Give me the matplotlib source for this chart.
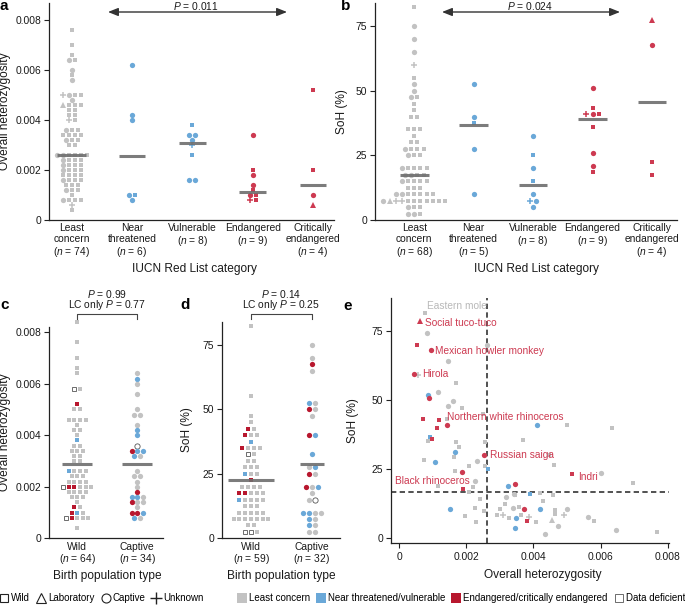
import numpy as np
import matplotlib
matplotlib.use('Agg')
import matplotlib.pyplot as plt
from matplotlib.lines import Line2D
from matplotlib.patches import FancyArrowPatch

plt.rcParams['font.family'] = ['Liberation Sans', 'DejaVu Sans']
plt.rcParams['mathtext.fontset'] = 'custom'
plt.rcParams['mathtext.it'] = 'Liberation Sans:italic'
plt.rcParams['mathtext.rm'] = 'Liberation Sans'

# ======================= DATA =======================
iucn_labels = ['Least\nconcern', 'Near\nthreatened', 'Vulnerable', 'Endangered', 'Critically\nendangered']
birth_labels = ['Wild', 'Captive']
a_counts = [74, 6, 8, 9, 4]
b_counts = [68, 5, 8, 9, 4]
c_counts = [64, 34]
d_counts = [59, 32]
iucn_color_keys = ['g', 'b', 'b', 'r', 'r']
# shapes: s = wild, t = laboratory, c = captive, p = unknown
# colours: g = least concern, b = NT/VU, r = EN/CR, o = data deficient

# ---- panel a: overall heterozygosity by IUCN category ----
a_lc_val = [0.0076, 0.0070, 0.0066, 0.0064, 0.0064, 0.0060, 0.0058, 0.0056,
            0.0050, 0.0050, 0.0050, 0.0050, 0.0048, 0.0046, 0.0046, 0.0046, 0.0046,
            0.0044, 0.0044, 0.0042, 0.0042, 0.0040, 0.0040,
            0.0036, 0.0036, 0.0036, 0.0034, 0.0034, 0.0034, 0.0034,
            0.0032, 0.0032, 0.0032, 0.0030, 0.0030,
            0.0026, 0.0026, 0.0026, 0.0026, 0.0026, 0.0026,
            0.0024, 0.0024, 0.0024, 0.0024, 0.0022, 0.0022, 0.0022, 0.0022,
            0.0020, 0.0020, 0.0020, 0.0020, 0.0018, 0.0018, 0.0018, 0.0018,
            0.0016, 0.0016, 0.0016, 0.0016, 0.0014, 0.0014, 0.0014,
            0.0012, 0.0012, 0.0012, 0.0010, 0.0008, 0.0008, 0.0008, 0.0008,
            0.0006, 0.0004]
a_lc_shp = ("sss" + "cs" + "c" + "s" + "c" + "pcss" + "c" + "tsss"
            + "ss" + "ss" + "ps" + "css" + "ssss" + "css" + "ss" + "ccssss" + "csss"
            + "csss" + "csss" + "ssss" + "csss" + "sss" + "css" + "s" + "csss" + "p" + "s")
a_nt_val = [0.0062, 0.0042, 0.0040, 0.0010, 0.0010, 0.0008]
a_nt_shp = "ccccsc"
a_vu_val = [0.0038, 0.0034, 0.0034, 0.0032, 0.0030, 0.0026, 0.0016, 0.0016]
a_vu_shp = "scccpscc"
a_en_val = [0.0034, 0.0020, 0.0018, 0.0014, 0.0012, 0.0010, 0.0010, 0.0008, 0.0008]
a_en_shp = "csccscsps"
a_cr_val = [0.0052, 0.0020, 0.0010, 0.0006]
a_cr_shp = "ssct"
a_medians = [0.0026, 0.00256, 0.0031, 0.00112, 0.00141]

# ---- panel b: SoH by IUCN category ----
b_lc_val = [82.5, 75, 70, 65, 60, 55, 52.5, 50, 47.5, 47.5, 45, 42.5, 40, 40,
            35, 35, 35, 32.5, 30, 30, 27.5, 27.5, 27.5, 27.5, 25, 25, 25,
            20, 20, 20, 20, 20, 17.5, 17.5, 17.5, 17.5, 15, 15, 15, 15, 15,
            12.5, 12.5, 12.5, 10, 10, 10, 10, 10, 10, 10,
            7.5, 7.5, 7.5, 7.5, 7.5, 7.5, 7.5, 7.5, 7.5, 7.5, 7.5,
            5, 5, 5, 2.5, 2.5, 2.5]
b_lc_shp = ("scccpscccsssss" + "sss" + "s" + "ss" + "csss" + "css"
            + "cssss" + "ccss" + "cssss" + "sss" + "ccsssss" + "ctppsssssss" + "css" + "ccs")
b_nt_val = [52.5, 40, 37.5, 27.5, 10]
b_nt_shp = "ccscc"
b_vu_val = [32.5, 25, 20, 15, 10, 7.5, 7.5, 5]
b_vu_shp = "cscscpcc"
b_en_val = [51, 43.5, 41, 41, 41, 36, 26, 21, 18.5]
b_en_shp = "cspcssccs"
b_cr_val = [77.5, 67.5, 22.5, 17.5]
b_cr_shp = "tcss"
b_medians = [17.5, 36.9, 13.5, 39, 45.7]

# ---- panel c: overall heterozygosity by birth population ----
c_wild_val = [0.0084, 0.0076, 0.0070, 0.0066, 0.0064, 0.0058, 0.0058, 0.0052, 0.0050, 0.0050,
              0.0046, 0.0046, 0.0046, 0.0046, 0.0044, 0.0042, 0.0042, 0.0040, 0.0038,
              0.0036, 0.0036, 0.0034, 0.0034, 0.0034, 0.0032, 0.0032, 0.0030, 0.0030,
              0.0026, 0.0026, 0.0026, 0.0026, 0.0024, 0.0024, 0.0024,
              0.0022, 0.0022, 0.0022, 0.0022, 0.0020, 0.0020, 0.0020, 0.0020, 0.0020, 0.0020,
              0.0018, 0.0018, 0.0018, 0.0018, 0.0016, 0.0016, 0.0016, 0.0014,
              0.0012, 0.0012, 0.0010, 0.0010, 0.0010,
              0.0008, 0.0008, 0.0008, 0.0008, 0.0008, 0.0004]
c_wild_col = ("ggggg" + "og" + "r" + "gg" + "gggg" + "g" + "gg" + "g" + "b" + "gg" + "ggg" + "gg" + "gg"
              + "bggg" + "ggg" + "gggg" + "orrggg" + "gggg" + "ggg" + "g" + "rg" + "rbg" + "orggg" + "g")
c_capt_val = [0.0064, 0.0062, 0.0060, 0.0056, 0.0050, 0.0048, 0.0048, 0.0044, 0.0042, 0.0040,
              0.0036, 0.0034, 0.0034, 0.0034, 0.0032, 0.0032, 0.0026, 0.0024, 0.0024,
              0.0022, 0.0020, 0.0018, 0.0016, 0.0016, 0.0016, 0.0014, 0.0014, 0.0014,
              0.0012, 0.0010, 0.0010, 0.0010, 0.0008, 0.0008]
c_capt_col = ("gbggg" + "gg" + "g" + "b" + "b" + "o" + "rbb" + "bg" + "g" + "gg" + "g" + "g" + "r"
              + "bbg" + "rgg" + "g" + "rrb" + "bg")
c_medians = [0.0029, 0.0029]

# ---- panel d: SoH by birth population ----
d_wild_val = [82.5, 55, 47.5, 45, 42.5, 42.5, 40, 40, 40, 37.5, 35, 35, 35, 35,
              32.5, 32.5, 30, 30, 27.5, 27.5, 27.5, 25, 25, 25, 22.5,
              20, 20, 20, 20, 17.5, 17.5, 17.5, 17.5, 17.5, 15, 15, 15, 15, 15,
              12.5, 12.5, 12.5, 10, 10, 10, 10, 10,
              7.5, 7.5, 7.5, 7.5, 7.5, 7.5, 7.5, 5, 5, 2.5, 2.5, 2.5]
d_wild_col = ("gggg" + "rg" + "rgg" + "b" + "rggg" + "og" + "gg" + "ggg" + "bgg" + "r"
              + "gggg" + "rrggg" + "bgggg" + "ggg" + "ggggg" + "ggggggg" + "gg" + "oog")
d_capt_val = [75, 70, 67.5, 65, 52.5, 52.5, 50, 50, 47.5, 40, 40, 32.5, 27.5, 27.5, 25, 25,
              20, 20, 20, 17.5, 15, 15, 10, 10, 10, 10, 7.5, 7.5, 5, 5, 2.5, 2.5]
d_capt_col = ("ggrg" + "bg" + "rg" + "g" + "rb" + "b" + "gb" + "rg" + "rgb" + "g" + "go"
              + "bbgg" + "bg" + "bg" + "gg")
d_medians = [22.5, 29]

# ---- panel e: SoH vs overall heterozygosity ----
e_gray_x = [0.00077, 0.00083, 0.00262, 0.00145, 0.00056, 0.00170, 0.00115, 0.00160, 0.00147, 0.00187,
            0.00249, 0.00143, 0.00501, 0.00632, 0.00085, 0.00170, 0.00179, 0.00368, 0.00256, 0.00164,
            0.00447, 0.00075, 0.00232, 0.00207, 0.00462, 0.00256, 0.00166, 0.00600, 0.00696, 0.00226,
            0.00115, 0.00219, 0.00209, 0.00341, 0.00241, 0.00318, 0.00346, 0.00420, 0.00457, 0.00427,
            0.00315, 0.00301, 0.00358, 0.00339, 0.00464, 0.00499, 0.00196, 0.00225, 0.00252, 0.00230,
            0.00292, 0.00310, 0.00328, 0.00363, 0.00387, 0.00408, 0.00456, 0.00472, 0.00491, 0.00561,
            0.00579, 0.00645, 0.00766, 0.00434, 0.00464]
e_gray_y = [81.3, 74.3, 69.7, 64.0, 58.9, 56.0, 52.9, 49.5, 47.8, 47.2,
            45.0, 43.0, 41.0, 40.0, 35.3, 34.9, 33.1, 35.5, 34.9, 29.3,
            30.1, 28.3, 27.8, 26.1, 26.4, 26.2, 24.4, 23.5, 20.1, 20.7,
            18.9, 18.4, 16.8, 16.0, 14.2, 15.0, 15.6, 16.2, 15.6, 13.6,
            12.5, 10.7, 11.2, 10.8, 10.2, 10.6, 8.2, 11.1, 10.0, 5.8,
            8.4, 8.4, 7.2, 8.4, 7.8, 5.9, 6.6, 4.6, 8.4, 7.8,
            6.3, 3.0, 2.4, 1.6, 8.9]
e_gray_shp = ("scccpscccs" + "ssssssssss" + "sscsssscsc" + "ssscscssss" + "ssscscssss"
              + "spsspstcpc" + "scscs")
e_gray_names = ["Eastern mole"] + [""] * 64
e_blue_x = [0.00085, 0.00093, 0.00166, 0.00106, 0.00409, 0.00264, 0.00325, 0.00390,
            0.00152, 0.00419, 0.00349, 0.00345]
e_blue_y = [51.7, 36.7, 31.3, 27.5, 40.8, 24.9, 19.0, 15.9, 10.7, 10.7, 7.2, 3.6]
e_blue_shp = "cscccscscccc"
e_red_x = [0.00062, 0.00053, 0.00095, 0.00044, 0.00090, 0.00070, 0.00118, 0.00113, 0.00144,
           0.00097, 0.00254, 0.00186, 0.00514, 0.00345, 0.00191, 0.00371, 0.00381]
e_red_y = [78.6, 69.7, 68.1, 59.5, 50.7, 43.1, 42.7, 39.7, 40.8,
           35.8, 30.0, 23.8, 23.1, 19.7, 17.9, 10.5, 6.3]
e_red_shp = "tscccssscsccscscs"
e_red_names = ["Social tuco-tuco", "", "Mexican howler monkey", "Hirola", "", "", "", "",
               "Northern white rhinoceros", "", "Russian saiga", "", "Indri", "",
               "Black rhinoceros", "", ""]
e_median_het = 0.00262
e_median_soh = 16.8

het_ticks = [0, 0.002, 0.004, 0.006, 0.008]
het_ticklabels = ['0', '0.002', '0.004', '0.006', '0.008']
soh_ticks = [0, 25, 50, 75]
p_a, p_b = '0.011', '0.024'
p_c_all, p_c_lc = '0.99', '0.77'
p_d_all, p_d_lc = '0.14', '0.25'

# ======================= STYLE =======================
W, H = 685, 605
PAL_ABE = {'g': '#C2C2C2', 'b': '#6AA8D8', 'r': '#CD3A51', 'o': 'white'}
PAL_CD = {'g': '#C2C2C2', 'b': '#6AA8D8', 'r': '#B8172E', 'o': 'white'}
TXT = '#1a1a1a'
SPINE = '#222222'
MED = '#6e6e6e'
TICK_FS = 7.4
LAB_FS = 8.6

fig = plt.figure(figsize=(W / 100, H / 100), dpi=100)


def fpx(x, y):
    return (x / W, 1 - y / H)


def add_ax(l, t, r, b):
    return fig.add_axes([l / W, 1 - b / H, (r - l) / W, (b - t) / H])


def style(ax, xticks_on=False):
    for s in ['top', 'right']:
        ax.spines[s].set_visible(False)
    for s in ['left', 'bottom']:
        ax.spines[s].set_linewidth(0.9)
        ax.spines[s].set_color(SPINE)
    ax.tick_params(axis='y', length=3.5, width=0.8, labelsize=TICK_FS, pad=2,
                   color=SPINE, labelcolor=TXT)
    ax.tick_params(axis='x', length=3.5 if xticks_on else 0, width=0.8,
                   labelsize=TICK_FS, pad=3 if xticks_on else 2.5, color=SPINE, labelcolor=TXT)


def tight_ticklabels(ax, ls):
    for lbl in ax.get_xticklabels():
        lbl.set_linespacing(ls)


def draw_point(ax, x, y, shp, ck, pal):
    marker = {'s': 's', 'c': 'o', 't': '^', 'p': '+'}[shp]
    ms = {'s': 3.5, 'c': 3.8, 't': 4.5, 'p': 4.8}[shp]
    if ck == 'o':
        mfc, mec, mew = 'white', '#555555', 0.6
    else:
        mfc = mec = pal[ck]
        mew = 0
    if shp == 'p':
        mew = 1.1
    ax.plot([x], [y], ls='none', marker=marker, ms=ms, mfc=mfc, mec=mec, mew=mew,
            clip_on=False, zorder=3)


def swarm(ax, center, vals, shapes, colors, dx, pal):
    groups = {}
    for i, v in enumerate(vals):
        groups.setdefault(round(v, 9), []).append(i)
    for idxs in groups.values():
        n = len(idxs)
        for k, i in enumerate(idxs):
            x = center + (k - (n - 1) / 2) * dx
            draw_point(ax, x, vals[i], shapes[i], colors[i], pal)


def median_line(ax, center, m, half):
    ax.plot([center - half, center + half], [m, m], color=MED, lw=2.2, alpha=0.9,
            solid_capstyle='butt', zorder=4, clip_on=False)


def cat_labels(labels, counts):
    return [f"{l}\n($\\mathit{{n}}$ = {n})" for l, n in zip(labels, counts)]


# ---------------- panel a ----------------
ax_a = add_ax(49, 3.3, 334, 220)
style(ax_a)
a_sets = [(a_lc_val, a_lc_shp), (a_nt_val, a_nt_shp), (a_vu_val, a_vu_shp),
          (a_en_val, a_en_shp), (a_cr_val, a_cr_shp)]
for i, (v, s) in enumerate(a_sets):
    swarm(ax_a, i, v, s, iucn_color_keys[i] * len(v), 0.1, PAL_ABE)
    median_line(ax_a, i, a_medians[i], 0.24 if i == 0 else 0.22)
ax_a.set_xlim(-0.38, 4.35)
ax_a.set_ylim(0, 0.00867)
ax_a.set_yticks(het_ticks)
ax_a.set_yticklabels(het_ticklabels)
ax_a.set_xticks(range(5))
ax_a.set_xticklabels(cat_labels(iucn_labels, a_counts))
tight_ticklabels(ax_a, 1.1)
ax_a.set_ylabel('Overall heterozygosity', fontsize=LAB_FS, color=TXT)
ax_a.yaxis.set_label_coords(-0.133, 0.5)
ax_a.set_xlabel('IUCN Red List category', fontsize=LAB_FS, color=TXT)
ax_a.xaxis.set_label_coords(0.512, -0.197)

# ---------------- panel b ----------------
ax_b = add_ax(375, 3.3, 677, 220)
style(ax_b)
b_sets = [(b_lc_val, b_lc_shp), (b_nt_val, b_nt_shp), (b_vu_val, b_vu_shp),
          (b_en_val, b_en_shp), (b_cr_val, b_cr_shp)]
for i, (v, s) in enumerate(b_sets):
    swarm(ax_b, i, v, s, iucn_color_keys[i] * len(v), 0.104, PAL_ABE)
    median_line(ax_b, i, b_medians[i], 0.24)
ax_b.set_xlim(-0.66, 4.42)
ax_b.set_ylim(0, 83.8)
ax_b.set_yticks(soh_ticks)
ax_b.set_xticks(range(5))
ax_b.set_xticklabels(cat_labels(iucn_labels, b_counts))
tight_ticklabels(ax_b, 1.1)
ax_b.set_ylabel('SoH (%)', fontsize=LAB_FS, color=TXT)
ax_b.yaxis.set_label_coords(-0.089, 0.5)
ax_b.set_xlabel('IUCN Red List category', fontsize=LAB_FS, color=TXT)
ax_b.xaxis.set_label_coords(0.536, -0.197)

# ---------------- panel c ----------------
ax_c = add_ax(49, 327, 163, 538.3)
style(ax_c)
swarm(ax_c, 0, c_wild_val, 's' * len(c_wild_val), c_wild_col, 0.093, PAL_CD)
swarm(ax_c, 1, c_capt_val, 'c' * len(c_capt_val), c_capt_col, 0.093, PAL_CD)
for i in range(2):
    median_line(ax_c, i, c_medians[i], 0.25)
ax_c.set_xlim(-0.47, 1.43)
ax_c.set_ylim(0, 0.0082)
ax_c.set_yticks(het_ticks)
ax_c.set_yticklabels(het_ticklabels)
ax_c.set_xticks(range(2))
ax_c.set_xticklabels(cat_labels(birth_labels, c_counts))
tight_ticklabels(ax_c, 1.05)
ax_c.set_ylabel('Overall heterozygosity', fontsize=LAB_FS, color=TXT)
ax_c.yaxis.set_label_coords(-0.333, 0.5)
ax_c.set_xlabel('Birth population type', fontsize=LAB_FS, color=TXT)
ax_c.xaxis.set_label_coords(0.509, -0.148)

# ---------------- panel d ----------------
ax_d = add_ax(222, 321.7, 340, 538.3)
style(ax_d)
swarm(ax_d, 0, d_wild_val, 's' * len(d_wild_val), d_wild_col, 0.095, PAL_CD)
swarm(ax_d, 1, d_capt_val, 'c' * len(d_capt_val), d_capt_col, 0.095, PAL_CD)
median_line(ax_d, 0, d_medians[0], 0.37)
median_line(ax_d, 1, d_medians[1], 0.19)
ax_d.set_xlim(-0.475, 1.46)
ax_d.set_ylim(0, 84)
ax_d.set_yticks(soh_ticks)
ax_d.set_xticks(range(2))
ax_d.set_xticklabels(cat_labels(birth_labels, d_counts))
tight_ticklabels(ax_d, 1.05)
ax_d.set_ylabel('SoH (%)', fontsize=LAB_FS, color=TXT)
ax_d.yaxis.set_label_coords(-0.246, 0.5)
ax_d.set_xlabel('Birth population type', fontsize=LAB_FS, color=TXT)
ax_d.xaxis.set_label_coords(0.5, -0.148)

# ---------------- panel e ----------------
ax_e = add_ax(391, 298, 669, 543)
style(ax_e, xticks_on=True)
ax_e.axvline(e_median_het, color='#333333', lw=1.2, ls=(0, (3.2, 2)), zorder=2)
ax_e.axhline(e_median_soh, color='#333333', lw=1.2, ls=(0, (3.2, 2)), zorder=2)
label_off = {"Eastern mole": (2, 7, 'left'), "Social tuco-tuco": (5, -2, 'left'),
             "Mexican howler monkey": (4, -1, 'left'), "Hirola": (8, 0, 'left'),
             "Northern white rhinoceros": (0, 8, 'left'), "Russian saiga": (6, 0, 'left'),
             "Indri": (6, -3, 'left'), "Black rhinoceros": (7, 8, 'right')}
for xs, ys, shp, ck, names, tcol in [
        (e_gray_x, e_gray_y, e_gray_shp, 'g', e_gray_names, '#B8B8B8'),
        (e_blue_x, e_blue_y, e_blue_shp, 'b', [""] * len(e_blue_x), None),
        (e_red_x, e_red_y, e_red_shp, 'r', e_red_names, PAL_ABE['r'])]:
    for x, y, s, nm in zip(xs, ys, shp, names):
        draw_point(ax_e, x, y, s, ck, PAL_ABE)
        if nm:
            dx, dy, ha = label_off[nm]
            ax_e.annotate(nm, (x, y), xytext=(dx, dy), textcoords='offset pixels',
                          ha=ha, va='center', fontsize=7.3, color=tcol, zorder=5)
ax_e.set_xlim(-0.000238, 0.00803)
ax_e.set_ylim(-1.7, 86.8)
ax_e.set_xticks(het_ticks)
ax_e.set_xticklabels(het_ticklabels)
ax_e.set_yticks(soh_ticks)
ax_e.set_ylabel('SoH (%)', fontsize=LAB_FS, color=TXT)
ax_e.yaxis.set_label_coords(-0.115, 0.5)
ax_e.set_xlabel('Overall heterozygosity', fontsize=LAB_FS, color=TXT)
ax_e.xaxis.set_label_coords(0.547, -0.105)

# ---------------- annotations ----------------
for (x0, x1, y, xt, p) in [(108, 287, 12, 196, p_a), (442, 620, 12, 530, p_b)]:
    fig.add_artist(FancyArrowPatch(fpx(x0, y), fpx(x1, y), transform=fig.transFigure,
                                   arrowstyle='<|-|>,head_length=0.55,head_width=0.22',
                                   mutation_scale=11, lw=1.0, color='#333333',
                                   shrinkA=0, shrinkB=0))
    fig.text(*fpx(xt, 5.5), f"$\\mathit{{P}}$ = {p}", ha='center', va='center',
             fontsize=7.4, color=TXT)

for (x0, x1, xt, pall, plc) in [(77, 137, 107, p_c_all, p_c_lc), (251, 312, 281, p_d_all, p_d_lc)]:
    fig.add_artist(Line2D([x0 / W, x0 / W, x1 / W, x1 / W],
                          [1 - 319 / H, 1 - 313.5 / H, 1 - 313.5 / H, 1 - 319 / H],
                          transform=fig.transFigure, lw=0.8, color='#444444'))
    fig.text(*fpx(xt, 293.5), f"$\\mathit{{P}}$ = {pall}", ha='center', va='center',
             fontsize=7.4, color=TXT)
    fig.text(*fpx(xt, 305), f"LC only $\\mathit{{P}}$ = {plc}", ha='center', va='center',
             fontsize=7.4, color=TXT)

for letter, x, y in [('a', 0, 10), ('b', 341, 10), ('c', 0, 309), ('d', 180, 309), ('e', 343, 310)]:
    fig.text(*fpx(x, y), letter, fontsize=11, fontweight='bold', ha='left', va='baseline',
             color='black')

# ---------------- legend ----------------
shape_handles = [
    Line2D([], [], ls='none', marker='s', ms=6, mfc='none', mec='#222222', mew=0.8),
    Line2D([], [], ls='none', marker='^', ms=6.5, mfc='none', mec='#222222', mew=0.8),
    Line2D([], [], ls='none', marker='o', ms=6.5, mfc='none', mec='#222222', mew=0.8),
    Line2D([], [], ls='none', marker='+', ms=8, mec='#222222', mew=1.0)]
shape_names = ['Wild', 'Laboratory', 'Captive', 'Unknown']
col_handles = [
    Line2D([], [], ls='none', marker='s', ms=6.5, mfc=PAL_CD['g'], mec=PAL_CD['g'], mew=0),
    Line2D([], [], ls='none', marker='s', ms=6.5, mfc=PAL_CD['b'], mec=PAL_CD['b'], mew=0),
    Line2D([], [], ls='none', marker='s', ms=6.5, mfc=PAL_CD['r'], mec=PAL_CD['r'], mew=0),
    Line2D([], [], ls='none', marker='s', ms=6, mfc='white', mec='#555555', mew=0.6)]
col_names = ['Least concern', 'Near threatened/vulnerable', 'Endangered/critically endangered',
             'Data deficient']
leg_kw = dict(frameon=False, fontsize=7.0, handlelength=0.9, handletextpad=0.25,
              columnspacing=0.7, borderaxespad=0, borderpad=0)
fig.legend(shape_handles, shape_names, ncol=4, loc='center left',
           bbox_to_anchor=(0.0, 1 - 598 / H), **leg_kw)
fig.legend(col_handles, col_names, ncol=4, loc='center right',
           bbox_to_anchor=(1.0, 1 - 598 / H), **leg_kw)

fig.savefig('out.png', dpi=100)
